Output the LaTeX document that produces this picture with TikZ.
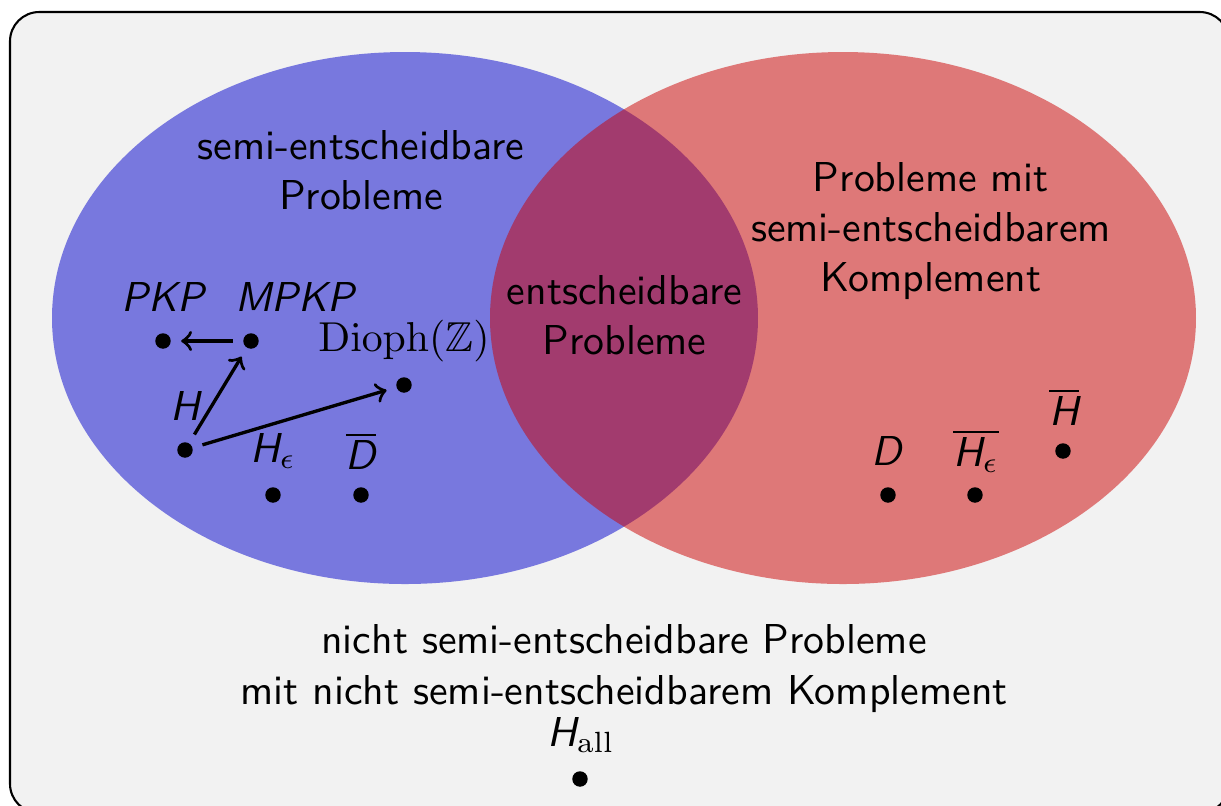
\documentclass[tikz,border=0pt]{standalone}
\usepackage{amsmath,amssymb}
\usetikzlibrary{calc}
\newcommand{\sv}[1]{\textsf{\itshape #1}}
\tikzset{
 px/.style={x=0.0084cm,y=-0.0084cm},
 dot/.style={circle,fill=black,inner sep=0pt,minimum size=3.7pt},
 lbl/.style={font=\sffamily,inner sep=0pt},
 txt/.style={font=\sffamily,align=center},
 arr/.style={->,thick,shorten >=2.3pt,shorten <=2.3pt},
 setA/.style={fill=blue!80!black,fill opacity=0.5},
 setB/.style={fill=red!80!black,fill opacity=0.5},
 frame/.style={draw=black,fill=black!5,rounded corners=7pt,line width=0.5pt}
}
\begin{document}
\begin{tikzpicture}[px]
\useasboundingbox (0,0) rectangle (1221,805);
\clip (0,0) rectangle (1221,805);
\draw[frame] (10,12) rectangle (1229,813);
\fill[setA] (405,318) ellipse [x radius=353, y radius=266];
\fill[setB] (843,318) ellipse [x radius=353, y radius=266];
\node[txt] (semi) at (361,170) {semi-entscheidbare\\Probleme};
\node[txt] (cosemi) at (931,231) {Probleme mit\\semi-entscheidbarem\\Komplement};
\node[txt] (dec) at (624.5,315) {entscheidbare\\Probleme};
\node[txt] (none) at (624,668.5) {nicht semi-entscheidbare Probleme\\mit nicht semi-entscheidbarem Komplement};
\node[dot] (pkp) at (163,341) {};
\node[lbl] (pkpL) at (164,297) {\sv{PKP}};
\node[dot] (mpkp) at (251,341) {};
\node[lbl] (mpkpL) at (296,297) {\sv{MPKP}};
\node[dot] (dioph) at (404,385) {};
\node[lbl] (diophL) at (404,341) {$\mathrm{Dioph}(\mathbb{Z})$};
\node[dot] (h) at (185,450) {};
\node[lbl] (hL) at (186,406) {\sv{H}};
\node[dot] (he) at (273,495) {};
\node[lbl] (heL) at (273,451) {$\sv{H}_\epsilon$};
\node[dot] (dbar) at (361,495) {};
\node[lbl] (dbarL) at (361,451) {$\overline{\sv{D}}$};
\node[dot] (d) at (888,495) {};
\node[lbl] (dL) at (888,451) {\sv{D}};
\node[dot] (hebar) at (975,495) {};
\node[lbl] (hebarL) at (976,451) {$\overline{\sv{H}_\epsilon}$};
\node[dot] (hbar) at (1063,451) {};
\node[lbl] (hbarL) at (1064,407) {$\overline{\sv{H}}$};
\node[dot] (hall) at (580,779) {};
\node[lbl] (hallL) at (581,735) {$\sv{H}_{\mathrm{all}}$};
\draw[arr] (mpkp) -- (pkp);
\draw[arr] (h) -- (mpkp);
\draw[arr] (h) -- (dioph);
\end{tikzpicture}
\end{document}
